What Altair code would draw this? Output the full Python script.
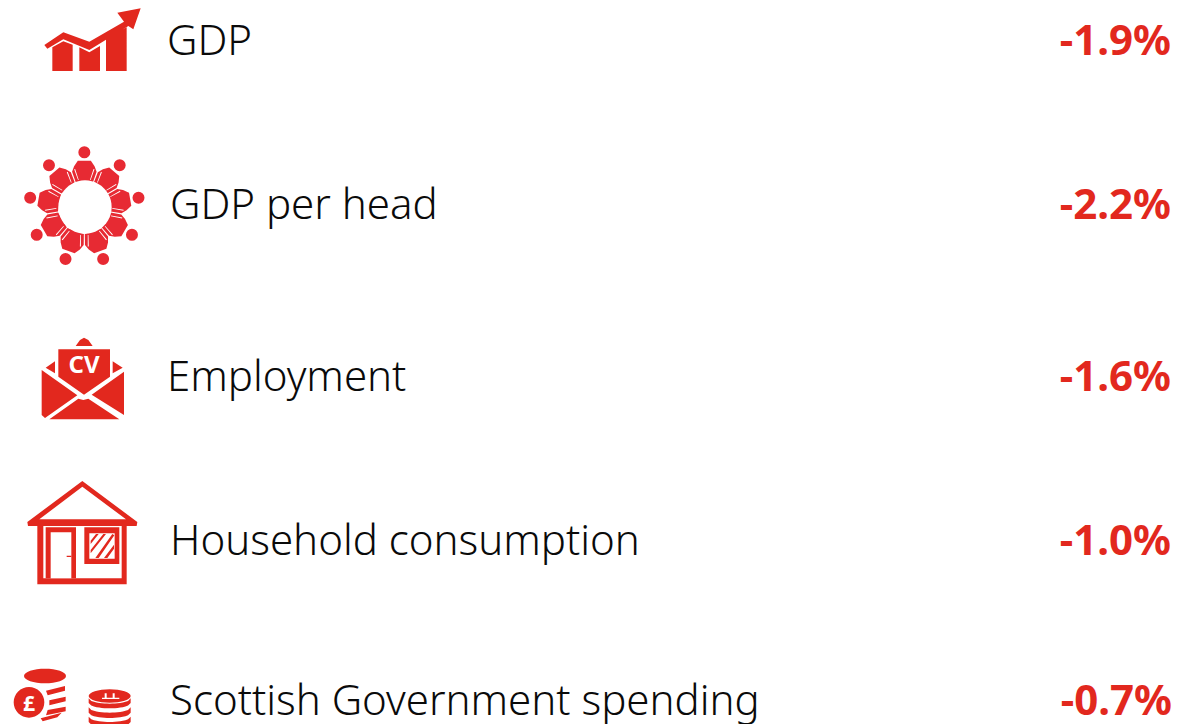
import math
import altair as alt
import pandas as pd

# ---- content
labels = ["GDP", "GDP per head", "Employment", "Household consumption", "Scottish Government spending"]
values = [-1.9, -2.2, -1.6, -1.0, -0.7]

# ---- layout (image pixels)
W, H = 1164, 716
M = 8
label_x = [167, 170, 167, 170, 170]
base_y = [55, 219, 391, 555, 715]
value_x = [1171, 1171, 1171, 1171, 1172]
RED = "#E2281E"
PINK = "#E72A33"
WHITE = "#FFFFFF"


# ---- icon geometry helpers: points are given in 3x zoom pixels
def poly(pts):
    return "M" + "L".join(f"{x/3:.2f},{y/3:.2f}" for x, y in pts) + "Z"


def ellipse(cx, cy, rx, ry, n=32):
    return poly([(cx + rx * math.cos(2 * math.pi * i / n), cy + ry * math.sin(2 * math.pi * i / n)) for i in range(n)])


def rect(x0, y0, x1, y1):
    return poly([(x0, y0), (x1, y0), (x1, y1), (x0, y1)])


def band(x0, x1, y, h, sag):
    n = 16
    cx = (x0 + x1) / 2
    rx = (x1 - x0) / 2
    top = [(cx + rx * (2 * i / n - 1), y + sag * math.sqrt(max(0, 1 - (2 * i / n - 1) ** 2))) for i in range(n + 1)]
    bot = [(px, py + h) for px, py in reversed(top)]
    return poly(top + bot)


# GDP arrow and bars, drawn at zoom origin (0,0)
gdp_red = "".join([
    poly([(133, 135), (190, 97), (268, 125), (372, 65), (352, 38), (422, 25), (400, 88), (385, 78), (268, 150), (190, 118), (142, 146)]),
    poly([(157, 142), (190, 124), (218, 134), (218, 213), (157, 213)]),
    poly([(238, 142), (268, 157), (300, 138), (300, 213), (238, 213)]),
    poly([(318, 117), (380, 82), (380, 213), (318, 213)]),
])


# Ring of nine people
def pol(r, deg, cx=253, cy=622):
    a = math.radians(deg)
    return (cx + r * math.sin(a), cy - r * math.cos(a))


people = ""
slits = ""
for k in range(9):
    a = 40 * k
    people += ellipse(*pol(165, a), 18, 18, 16)
    people += poly([pol(80, a - 19), pol(113, a - 19), pol(127, a - 14), pol(141, a - 8),
                    pol(141, a + 8), pol(127, a + 14), pol(113, a + 19), pol(80, a + 19)])
    slits += poly([pol(84, a - 13), pol(118, a - 15), pol(118, a - 13.5), pol(84, a - 11.5)])
    slits += poly([pol(84, a + 13), pol(118, a + 15), pol(118, a + 13.5), pol(84, a + 11.5)])

# Envelope
env_o = 320 * 3
env = "".join(poly([(x, y + env_o) for x, y in p]) for p in [
    [(175, 88), (330, 88), (330, 170), (252, 224), (175, 170)],
    [(125, 150), (232, 226), (135, 294), (125, 285)],
    [(372, 155), (372, 285), (275, 224)],
    [(148, 298), (235, 236), (250, 240), (265, 236), (358, 298)],
    [(227, 78), (240, 60), (252, 53), (265, 60), (278, 78)],
    [(137, 143), (165, 124), (165, 160)],
    [(368, 143), (338, 124), (338, 160)],
])

# House
hy = lambda y: y + env_o
house_red = "".join([
    poly([(247, hy(483)), (412, hy(606)), (410, hy(618)), (84, hy(618)), (82, hy(606))]),
    rect(112, hy(612), 380, hy(793)),
])
house_white = "".join([
    poly([(247, hy(500)), (378, hy(598)), (118, hy(598))]),
    rect(130, hy(618), 365, hy(775)),
])
house_red2 = "".join([
    rect(137, hy(622), 228, hy(775)),
    rect(253, hy(622), 358, hy(732)),
])
house_white2 = "".join([
    rect(152, hy(637), 214, hy(775)),
    rect(268, hy(640), 344, hy(716)),
])
house_red3 = "".join([
    rect(200, hy(707), 214, hy(711)),
    poly([(272, hy(662)), (288, hy(642)), (296, hy(642)), (272, hy(672))]),
    poly([(272, hy(690)), (310, hy(642)), (318, hy(642)), (272, hy(700))]),
    poly([(286, hy(714)), (337, hy(642)), (343, hy(646)), (296, hy(714))]),
    poly([(312, hy(714)), (342, hy(674)), (342, hy(686)), (322, hy(714))]),
])

# Coins
cy = lambda y: y + 650 * 3
coins_red = "".join([
    ellipse(135, cy(78), 63, 22),
    ellipse(87, cy(157), 46, 46),
    poly([(138, cy(122)), (195, cy(108)), (195, cy(122)), (143, cy(136))]),
    poly([(148, cy(151)), (197, cy(140)), (197, cy(154)), (148, cy(166))]),
    poly([(143, cy(180)), (197, cy(170)), (197, cy(184)), (138, cy(196))]),
    poly([(122, cy(205)), (185, cy(188)), (172, cy(202)), (128, cy(214))]),
    ellipse(329, cy(138), 63, 20),
    band(266, 392, cy(145), 14, 16),
    band(266, 392, cy(172), 16, 16),
    band(266, 392, cy(200), 16, 16),
])
coins_white = "".join([
    rect(306, cy(143), 358, cy(147)),
    rect(314, cy(130), 320, cy(145)),
    rect(338, cy(130), 344, cy(145)),
])

# White cut-outs for the ring (hollow centre) on top of the people
ring_white = ellipse(255, 621, 80, 80, 48)

shapes = [
    (gdp_red, RED), (people, PINK), (ring_white, WHITE), (slits, WHITE), (env, RED),
    (house_red, RED), (house_white, WHITE), (house_red2, RED), (house_white2, WHITE), (house_red3, RED),
    (coins_red, RED), (coins_white, WHITE),
]
icons = pd.DataFrame({
    "x": [-M] * len(shapes),
    "y": [-M] * len(shapes),
    "path": [s[0] for s in shapes],
    "color": [s[1] for s in shapes],
})

x_enc = alt.Scale(domain=[0, W], range=[0, W])
y_enc = alt.Scale(domain=[0, H], range=[0, H])

rows = pd.DataFrame({
    "label": labels,
    "value": [f"{v:.1f}%" for v in values],
    "lx": label_x,
    "vx": [v - M for v in value_x],
    "y": [b - M for b in base_y],
})
rows["lx"] = rows["lx"] - M

icon_layer = alt.Chart(icons).mark_point(filled=True, size=4, opacity=1, strokeWidth=0).encode(
    x=alt.X("x:Q", scale=x_enc, axis=None),
    y=alt.Y("y:Q", scale=y_enc, axis=None),
    shape=alt.Shape("path:N", scale=None),
    color=alt.Color("color:N", scale=None),
)

label_layer = alt.Chart(rows).mark_text(
    align="left", baseline="alphabetic", font="Noto Sans", fontSize=42, fontWeight=300, color="#0A0A0A"
).encode(
    x=alt.X("lx:Q", scale=x_enc, axis=None),
    y=alt.Y("y:Q", scale=y_enc, axis=None),
    text="label:N",
)

value_layer = alt.Chart(rows).mark_text(
    align="right", baseline="alphabetic", font="Noto Sans", fontSize=42, fontWeight="bold", color=RED
).encode(
    x=alt.X("vx:Q", scale=x_enc, axis=None),
    y=alt.Y("y:Q", scale=y_enc, axis=None),
    text="value:N",
)

glyphs = pd.DataFrame({"t": ["CV", "£"], "x": [84 - M, 29 - M], "y": [373 - M, 711 - M], "s": [24, 21]})
glyph_layer = alt.Chart(glyphs).mark_text(
    align="center", baseline="alphabetic", font="Noto Sans", fontWeight="bold", color=WHITE
).encode(
    x=alt.X("x:Q", scale=x_enc, axis=None),
    y=alt.Y("y:Q", scale=y_enc, axis=None),
    text="t:N",
    size=alt.Size("s:Q", scale=None, legend=None),
)

chart = alt.layer(icon_layer, label_layer, value_layer, glyph_layer).properties(
    width=W, height=H, padding=0, autosize=alt.AutoSizeParams(type="none"), background="#FFFFFF"
).configure_view(stroke=None)

chart.save("out.html", embed_options={"renderer": "svg", "actions": False})
